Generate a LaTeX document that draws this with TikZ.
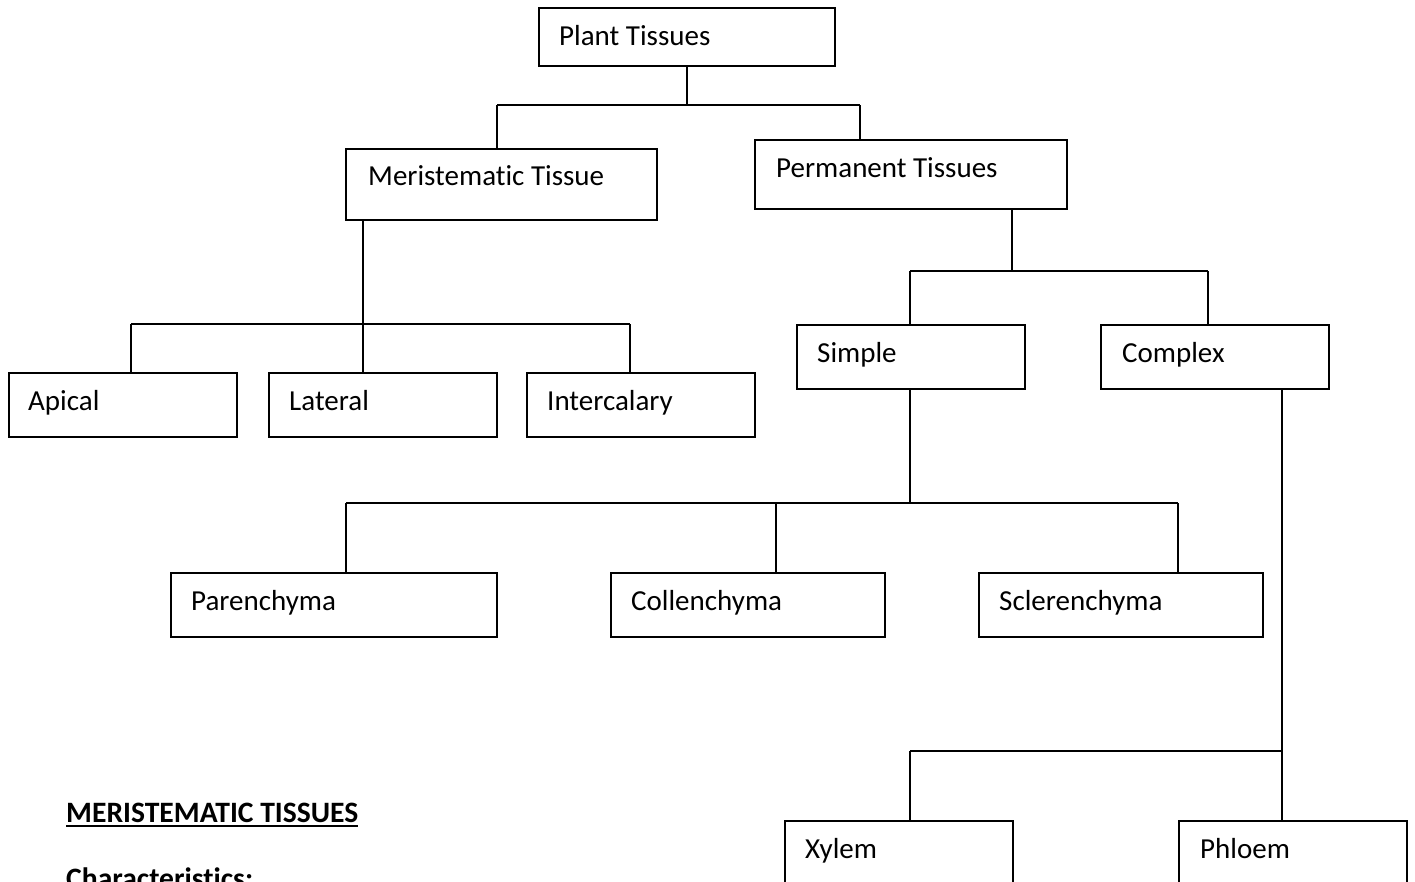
\documentclass[tikz,border=0pt]{standalone}
\usepackage{fontspec}
\setmainfont{Carlito}[Ligatures={NoCommon,NoRare,NoContextual}]
\usetikzlibrary{calc}
\begin{document}
\begin{tikzpicture}[x=1pt,y=-1pt,
  box/.style={draw,line width=2pt,anchor=north west,inner sep=0pt},
  lbl/.style={anchor=base west,inner sep=0pt,font=\fontsize{29}{34}\selectfont},
  hdg/.style={anchor=base west,inner sep=0pt,font=\fontsize{29.6}{34}\selectfont\bfseries},
  conn/.style={draw,line width=2pt}]
\useasboundingbox (0,0) rectangle (1415,881);
\clip (0,0) rectangle (1415,881);
% boxes
\node[box,minimum width=296pt,minimum height=58pt] (pt) at (538,7) {};
\node[box,minimum width=311pt,minimum height=71pt] (mt) at (345,148) {};
\node[box,minimum width=312pt,minimum height=69pt] (pm) at (754,139) {};
\node[box,minimum width=228pt,minimum height=64pt] (ap) at (8,372) {};
\node[box,minimum width=228pt,minimum height=64pt] (la) at (268,372) {};
\node[box,minimum width=228pt,minimum height=64pt] (ic) at (526,372) {};
\node[box,minimum width=228pt,minimum height=64pt] (si) at (796,324) {};
\node[box,minimum width=228pt,minimum height=64pt] (co) at (1100,324) {};
\node[box,minimum width=326pt,minimum height=64pt] (pa) at (170,572) {};
\node[box,minimum width=274pt,minimum height=64pt] (cl) at (610,572) {};
\node[box,minimum width=284pt,minimum height=64pt] (sc) at (978,572) {};
\node[box,minimum width=228pt,minimum height=90pt] (xy) at (784,820) {};
\node[box,minimum width=228pt,minimum height=90pt] (ph) at (1178,820) {};
% labels
\node[lbl] (ptt) at ($(pt.north west)+(21,38)$) {Plant Tissues};
\node[lbl] (mtt) at ($(mt.north west)+(23,37)$) {Meristematic Tissue};
\node[lbl] (pmt) at ($(pm.north west)+(22,38)$) {Permanent Tissues};
\node[lbl] (apt) at ($(ap.north west)+(20,38)$) {Apical};
\node[lbl] (lat) at ($(la.north west)+(21,38)$) {Lateral};
\node[lbl] (ict) at ($(ic.north west)+(21,38)$) {Intercalary};
\node[lbl] (sit) at ($(si.north west)+(21,38)$) {Simple};
\node[lbl] (cot) at ($(co.north west)+(22,38)$) {Complex};
\node[lbl] (pat) at ($(pa.north west)+(21,38)$) {Parenchyma};
\node[lbl] (clt) at ($(cl.north west)+(21,38)$) {Collenchyma};
\node[lbl] (sct) at ($(sc.north west)+(21,38)$) {Sclerenchyma};
\node[lbl] (xyt) at ($(xy.north west)+(21,38)$) {Xylem};
\node[lbl] (pht) at ($(ph.north west)+(22,38)$) {Phloem};
% heading
\node[hdg] (hd) at (66,822) {MERISTEMATIC TISSUES};
\draw[line width=2pt] ($(hd.base west)+(0,4)$) -- ($(hd.base east)+(0,4)$);
\node[hdg] (ch) at (66,888) {Characteristics:};
% junction coordinates
\coordinate (l1) at (497,105);
\coordinate (r1) at (860,105);
\coordinate (m0) at (363,324);
\coordinate (a1) at (131,324);
\coordinate (a3) at (630,324);
\coordinate (p0) at (1012,271);
\coordinate (s1) at (910,271);
\coordinate (s2) at (1208,271);
\coordinate (q0) at (910,503);
\coordinate (q1) at (346,503);
\coordinate (q2) at (776,503);
\coordinate (q3) at (1178,503);
\coordinate (c0) at (1282,751);
\coordinate (c1) at (910,751);
% connectors
\draw[conn] (pt.south) -- (pt.south |- l1);
\draw[conn] (l1) -- (r1);
\draw[conn] (l1) -- (l1 |- mt.north);
\draw[conn] (r1) -- (r1 |- pm.north);
\draw[conn] (m0 |- mt.south) -- (m0);
\draw[conn] (a1) -- (a3);
\draw[conn] (a1) -- (a1 |- ap.north);
\draw[conn] (m0) -- (m0 |- la.north);
\draw[conn] (a3) -- (a3 |- ic.north);
\draw[conn] (p0 |- pm.south) -- (p0);
\draw[conn] (s1) -- (s2);
\draw[conn] (s1) -- (s1 |- si.north);
\draw[conn] (s2) -- (s2 |- co.north);
\draw[conn] (q0 |- si.south) -- (q0);
\draw[conn] (q1) -- (q3);
\draw[conn] (q1) -- (q1 |- pa.north);
\draw[conn] (q2) -- (q2 |- cl.north);
\draw[conn] (q3) -- (q3 |- sc.north);
\draw[conn] (c0 |- co.south) -- (c0 |- ph.north);
\draw[conn] (c1) -- (c0);
\draw[conn] (c1) -- (c1 |- xy.north);
\end{tikzpicture}
\end{document}
